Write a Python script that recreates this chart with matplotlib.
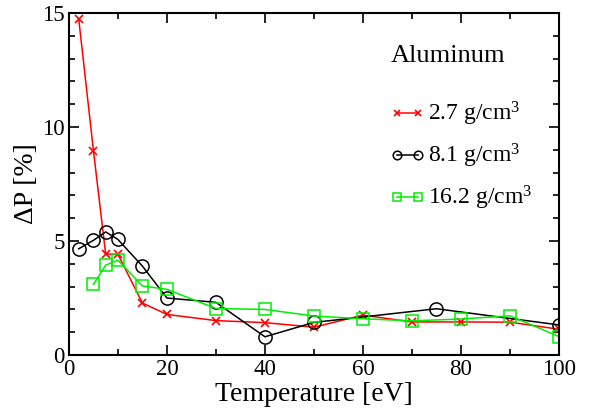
import matplotlib
matplotlib.use("Agg")
import matplotlib.pyplot as plt
from matplotlib.ticker import MultipleLocator

plt.rcParams['font.family'] = ['Liberation Serif', 'DejaVu Serif']
plt.rcParams['mathtext.fontset'] = 'custom'
plt.rcParams['mathtext.rm'] = 'Liberation Serif'
plt.rcParams['mathtext.it'] = 'Liberation Serif:italic'

x_red = [2, 5, 7.5, 10, 15, 20, 30, 40, 50, 60, 70, 80, 90, 100]
y_red = [14.75, 8.97, 4.43, 4.42, 2.28, 1.78, 1.51, 1.42, 1.22, 1.75, 1.45, 1.45, 1.44, 1.13]

x_black = [2, 5, 7.5, 10, 15, 20, 30, 40, 50, 75, 100]
y_black = [4.66, 5.03, 5.4, 5.07, 3.9, 2.5, 2.31, 0.8, 1.43, 2.03, 1.32]

x_green = [5, 7.5, 10, 15, 20, 30, 40, 50, 60, 70, 80, 90, 100]
y_green = [3.1, 3.94, 4.16, 3.03, 2.88, 2.04, 2.0, 1.71, 1.59, 1.5, 1.58, 1.72, 0.81]

labels = ['2.7 g/cm$^3$', '8.1 g/cm$^3$', '16.2 g/cm$^3$']

fig = plt.figure(figsize=(5.89, 4.09), dpi=100)
ax = fig.add_axes([0.117, 0.132, 0.832, 0.836])

ax.plot(x_red, y_red, color='#ff0000', lw=1.1, marker='x', ms=6, mew=1.2, label=labels[0])
ax.plot(x_black, y_black, color='black', lw=1.1, marker='o', ms=9.5, mfc='none', mew=1.1, label=labels[1])
ax.plot(x_green, y_green, color='#00ee00', lw=1.1, marker='s', ms=8, mfc='none', mew=1.1, label=labels[2])

ax.set_xlim(0, 100)
ax.set_ylim(0, 15)
ax.xaxis.set_major_locator(MultipleLocator(20))
ax.xaxis.set_minor_locator(MultipleLocator(10))
ax.yaxis.set_major_locator(MultipleLocator(5))
ax.yaxis.set_minor_locator(MultipleLocator(1))
ax.tick_params(which='both', direction='in', top=True, right=True, width=1.2, labelsize=16.5)
ax.tick_params(which='major', length=7, pad=3)
ax.tick_params(which='minor', length=4)
for s in ax.spines.values():
    s.set_linewidth(1.5)

ax.set_xlabel('Temperature [eV]', fontsize=20, labelpad=1)
ax.set_ylabel('ΔP [%]', fontsize=20, labelpad=2)

ax.text(0.656, 0.875, 'Aluminum', transform=ax.transAxes, fontsize=19, va='center', ha='left')
ax.legend(loc='upper left', bbox_to_anchor=(0.655, 0.745), frameon=False, fontsize=17,
          handlelength=1.5, handletextpad=0.1, labelspacing=0.58, markerscale=0.65,
          numpoints=2, borderaxespad=0, borderpad=0)

fig.savefig('out.png', dpi=100)
